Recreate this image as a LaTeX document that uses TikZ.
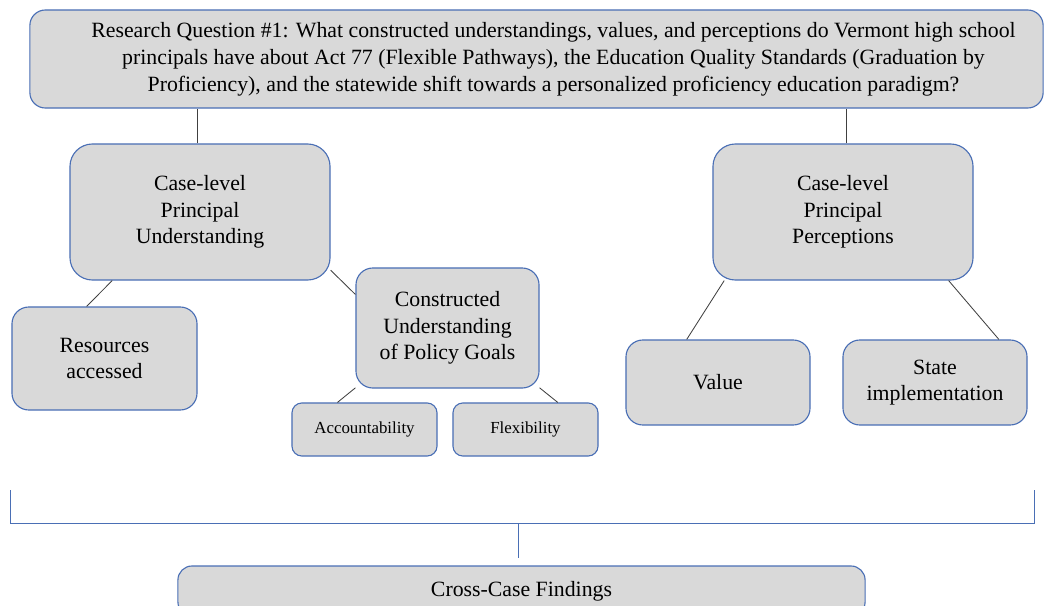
\documentclass[tikz,border=0pt]{standalone}
\usepackage{fontspec}
\setmainfont{Liberation Serif}
\usetikzlibrary{calc}
\definecolor{boxfill}{HTML}{D9D9D9}
\definecolor{boxline}{HTML}{4A6FB5}
\definecolor{linkgray}{HTML}{404040}
\tikzset{
  box/.style={draw=boxline, fill=boxfill, line width=0.8pt, rounded corners=#1,
    align=center, inner sep=2pt, font=\fontsize{15.5}{19}\selectfont},
  box/.default=12pt,
  smallbox/.style={box=7pt, font=\fontsize{12}{14}\selectfont},
  link/.style={draw=linkgray, line width=0.6pt},
  bracket/.style={draw=boxline, line width=0.6pt}
}
\begin{document}
\begin{tikzpicture}[x=0.025cm, y=-0.025cm]
      \useasboundingbox (0, 0) rectangle (1044, 605);

      \node [box=11pt, minimum width=25.325cm, minimum height=2.45cm] (rq) at (536.5, 59)
        {\hspace*{0.85cm}\begin{tabular}{@{}c@{}}
         Research Question \#1: What constructed understandings, values, and perceptions do Vermont high school\\
         principals have about Act 77 (Flexible Pathways), the Education Quality Standards (Graduation by\\
         Proficiency), and the statewide shift towards a personalized proficiency education paradigm?
         \end{tabular}};

      \node [box=16pt, minimum width=6.5cm, minimum height=3.4cm] (ul) at (200, 212) {Case-level\\Principal\\Understanding};
      \node [box=16pt, minimum width=6.5cm, minimum height=3.4cm] (up) at (843, 212) {Case-level\\Principal\\Perceptions};

      \node [box, minimum width=4.625cm, minimum height=2.575cm] (rs) at (104.5, 358.5) {Resources\\accessed};
      \node [box, minimum width=4.575cm, minimum height=3cm] (cu) at (447.5, 328) {Constructed\\Understanding\\of Policy Goals};
      \node [smallbox, minimum width=3.625cm, minimum height=1.325cm] (ac) at (364.5, 429.5) {Accountability};
      \node [smallbox, minimum width=3.625cm, minimum height=1.325cm] (fl) at (525.5, 429.5) {Flexibility};

      \node [box, minimum width=4.6cm, minimum height=2.125cm] (va) at (718, 382.5) {Value};
      \node [box, minimum width=4.6cm, minimum height=2.125cm] (si) at (935, 382.5) {State\\implementation};

      \node [box=10pt, minimum width=17.175cm, minimum height=1.25cm] (cc) at (521.5, 591) {Cross-Case Findings};

      \draw [link] ($(ul.north)+(-3, 0)$) -- ($(ul.north |- rq.south)+(-3, 0)$);
      \draw [link] ($(up.north)+(3, 0)$) -- ($(up.north |- rq.south)+(3, 0)$);
      \draw [link] (ul.218) -- (rs.109);
      \draw [link] (ul.-24) -- (cu.160);
      \draw [link] (cu.213) -- (ac.135);
      \draw [link] (cu.-33) -- (fl.40);
      \draw [link] (up.210) -- (va.126);
      \draw [link] (up.-33) -- (si.34);

      \coordinate (bl) at (10, 490);
      \coordinate (br) at (1034, 490);
      \coordinate (bm) at (518, 523);
      \coordinate (bt) at (518, 558);
      \draw [bracket] (bl) |- (br |- bm) -- (br);
      \draw [bracket] (bm) -- (bt);
    \end{tikzpicture}
\end{document}
